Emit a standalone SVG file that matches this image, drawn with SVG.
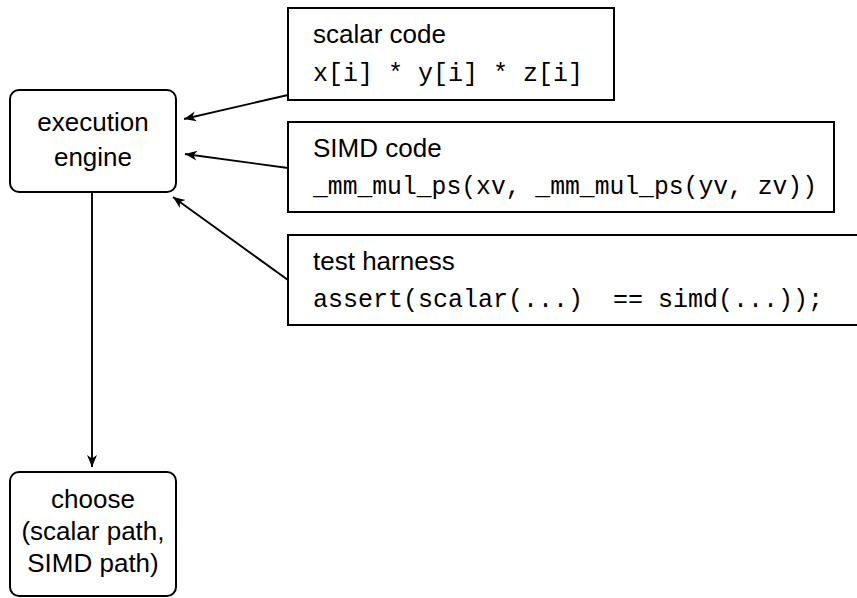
<svg xmlns="http://www.w3.org/2000/svg" width="857" height="598" viewBox="0 0 857 598">
<style>
.box{fill:#fff;stroke:#000;stroke-width:2}
.sans{font-family:"Liberation Sans",Arial,sans-serif;font-size:26px;fill:#000}
.mono{font-family:"Liberation Mono","Courier New",monospace;font-size:25px;fill:#000;white-space:pre}
.edge{stroke:#000;stroke-width:1.9;fill:none;marker-end:url(#arr)}
</style>
<defs>
<marker id="arr" markerUnits="userSpaceOnUse" markerWidth="16" markerHeight="12" viewBox="-13 -6 15 12" refX="0" refY="0" orient="auto">
<path d="M0,0 L-12,-5 L-8.5,0 L-12,5 Z" fill="#000"/>
</marker>
</defs>
<g id="connectors">
<line class="edge" x1="288" y1="95" x2="184" y2="119"/>
<line class="edge" x1="288" y1="168" x2="185" y2="154"/>
<line class="edge" x1="288" y1="280" x2="173" y2="197"/>
<line class="edge" x1="92" y1="192" x2="92" y2="467"/>
</g>
<g id="exec">
<rect class="box" x="10" y="90" width="166" height="102" rx="9"/>
<text class="sans" x="93" y="131" text-anchor="middle">execution</text>
<text class="sans" x="93" y="166" text-anchor="middle">engine</text>
</g>
<g id="scalar">
<rect class="box" x="288" y="8" width="326" height="92"/>
<text class="sans" x="313" y="43">scalar code</text>
<text class="mono" x="313" y="81">x[i] * y[i] * z[i]</text>
</g>
<g id="simd">
<rect class="box" x="288" y="122" width="546" height="90"/>
<text class="sans" x="313" y="157">SIMD code</text>
<text class="mono" x="313" y="194" textLength="504" lengthAdjust="spacingAndGlyphs">_mm_mul_ps(xv, _mm_mul_ps(yv, zv))</text>
</g>
<g id="harness">
<rect class="box" x="288" y="235" width="600" height="90"/>
<text class="sans" x="313" y="270">test harness</text>
<text class="mono" x="313" y="307" xml:space="preserve">assert(scalar(...)  == simd(...));</text>
</g>
<g id="choose">
<rect class="box" x="10" y="472" width="166" height="124" rx="9"/>
<text class="sans" x="93" y="508" text-anchor="middle">choose</text>
<text class="sans" x="93" y="540" text-anchor="middle">(scalar path,</text>
<text class="sans" x="93" y="572" text-anchor="middle">SIMD path)</text>
</g>
</svg>
